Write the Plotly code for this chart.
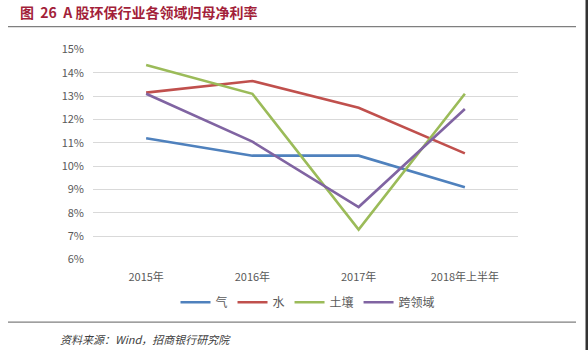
import plotly.graph_objects as go

# Net margin attributable to parent, by segment (%)
years = ["2015年", "2016年", "2017年", "2018年上半年"]
gas = [11.2, 10.45, 10.45, 9.1]
water = [13.15, 13.65, 12.5, 10.55]
soil = [14.33, 13.1, 7.28, 13.1]
cross = [13.1, 11.05, 8.25, 12.45]

y_ticks = list(range(6, 16))
y_tick_text = [f"{v}%" for v in y_ticks]

series = [
    ("气", gas, "#4F81BD"),
    ("水", water, "#C0504D"),
    ("土壤", soil, "#9BBB59"),
    ("跨领域", cross, "#8064A2"),
]

W, H = 588, 350
L, R, T, B = 93, 70, 48.5, 89.5
PW, PH = W - L - R, H - T - B


def px_x(x):
    return (x - L) / PW


def px_y(y):
    return (H - B - y) / PH


fig = go.Figure()
for name, vals, color in series:
    fig.add_trace(go.Scatter(
        x=years, y=vals, name=name, mode="lines",
        line=dict(color=color, width=2.6),
    ))

font_cjk = "Noto Sans CJK SC, Noto Sans, sans-serif"

fig.update_layout(
    width=W, height=H,
    margin=dict(l=L, r=R, t=T, b=B),
    paper_bgcolor="white",
    plot_bgcolor="white",
    font=dict(family=font_cjk, size=11, color="#595959"),
    xaxis=dict(
        range=[-0.5, 3.5],
        showgrid=False, showline=False, zeroline=False,
        ticks="", ticklabelstandoff=9,
        tickfont=dict(size=11, color="#595959"),
    ),
    yaxis=dict(
        range=[5.98, 15.02], tickvals=y_ticks, ticktext=y_tick_text,
        showgrid=True, gridcolor="#D9D9D9", gridwidth=1,
        zeroline=False, showline=False, ticks="", ticklabelstandoff=8,
        tickfont=dict(size=11, color="#595959"),
    ),
    legend=dict(
        orientation="h", x=px_x(308), y=px_y(303), xanchor="center", yanchor="middle",
        font=dict(size=12, color="#595959"), itemwidth=30,
        tracegroupgap=0, bgcolor="rgba(0,0,0,0)",
    ),
    showlegend=True,
    title=dict(
        text="<b>图  26  A 股环保行业各领域归母净利率</b>",
        x=20 / W, xanchor="left", xref="container",
        y=1 - 13 / H, yanchor="middle", yref="container",
        pad=dict(l=0, r=0, t=0, b=0),
        font=dict(family="Noto Sans CJK SC", size=14, color="#A31F3A"),
    ),
)

# Horizontal rules above the chart and above the source note
for yy in (26, 323):
    fig.add_shape(
        type="line", xref="paper", yref="paper",
        x0=px_x(8), x1=px_x(576), y0=px_y(yy), y1=px_y(yy),
        line=dict(color="#7F7F7F", width=1.3),
    )

# Dark right border strip
fig.add_shape(
    type="rect", xref="paper", yref="paper",
    x0=px_x(585.5), x1=px_x(588.5), y0=px_y(-1), y1=px_y(351),
    line=dict(width=0), fillcolor="#333333",
)

fig.add_annotation(
    text="<i>资料来源：Wind，招商银行研究院</i>",
    xref="paper", yref="paper", x=px_x(58), y=px_y(340),
    xanchor="left", yanchor="middle", showarrow=False,
    font=dict(family="Noto Sans CJK SC, serif", size=11, color="#404040"),
)

fig.write_html("out.html")
